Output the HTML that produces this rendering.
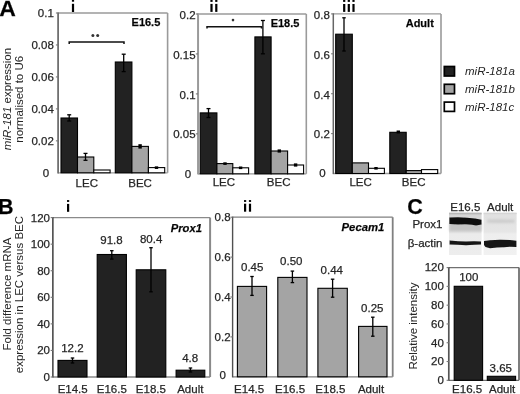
<!DOCTYPE html>
<html><head><meta charset="utf-8"><style>
html,body{margin:0;padding:0;background:#fff;}
body{width:520px;height:394px;overflow:hidden;}
svg{display:block;font-family:"Liberation Sans", sans-serif;}
.w{will-change:transform;width:520px;height:394px;}
text{stroke:#262626;stroke-width:0.25px;}
</style></head><body><div class="w">
<svg width="520" height="394" viewBox="0 0 520 394">
<text x="-0.75" y="15.6" font-size="21.5" text-anchor="start" font-weight="bold" font-style="normal" fill="#000" transform="scale(1.07,1)">A</text>
<line x1="58.1" y1="13" x2="167.6" y2="13" stroke="#9a9a9a" stroke-width="1.3"/>
<line x1="167.6" y1="13" x2="167.6" y2="172.8" stroke="#9a9a9a" stroke-width="1.6"/>
<line x1="58.1" y1="172.8" x2="167.6" y2="172.8" stroke="#9a9a9a" stroke-width="1.3"/>
<line x1="58.1" y1="12.4" x2="58.1" y2="173.4" stroke="#707070" stroke-width="1.8"/>
<line x1="55.9" y1="140.84" x2="58.1" y2="140.84" stroke="#787878" stroke-width="1.1"/>
<text x="53.8" y="144.84" font-size="11.5" text-anchor="end" font-weight="normal" font-style="normal" fill="#262626" >0.02</text>
<line x1="55.9" y1="108.88" x2="58.1" y2="108.88" stroke="#787878" stroke-width="1.1"/>
<text x="53.8" y="112.88" font-size="11.5" text-anchor="end" font-weight="normal" font-style="normal" fill="#262626" >0.04</text>
<line x1="55.9" y1="76.92" x2="58.1" y2="76.92" stroke="#787878" stroke-width="1.1"/>
<text x="53.8" y="80.92" font-size="11.5" text-anchor="end" font-weight="normal" font-style="normal" fill="#262626" >0.06</text>
<line x1="55.9" y1="44.96" x2="58.1" y2="44.96" stroke="#787878" stroke-width="1.1"/>
<text x="53.8" y="48.96" font-size="11.5" text-anchor="end" font-weight="normal" font-style="normal" fill="#262626" >0.08</text>
<line x1="55.9" y1="13.0" x2="58.1" y2="13.0" stroke="#787878" stroke-width="1.1"/>
<text x="53.8" y="17.0" font-size="11.5" text-anchor="end" font-weight="normal" font-style="normal" fill="#262626" >0.1</text>
<text x="49.2" y="176.8" font-size="11.5" text-anchor="end" font-weight="normal" font-style="normal" fill="#262626" >0</text>
<rect x="61" y="118" width="16.5" height="54.8" fill="#222222" stroke="#000" stroke-width="1.1"/>
<rect x="77.5" y="157" width="16.3" height="15.8" fill="#a4a4a4" stroke="#000" stroke-width="1.1"/>
<rect x="93.8" y="170" width="16.3" height="2.8" fill="#fff" stroke="#000" stroke-width="1.1"/>
<rect x="115.3" y="62" width="16.6" height="110.8" fill="#222222" stroke="#000" stroke-width="1.1"/>
<rect x="131.9" y="146.4" width="16.5" height="26.4" fill="#a4a4a4" stroke="#000" stroke-width="1.1"/>
<rect x="148.4" y="167.6" width="16.3" height="5.2" fill="#fff" stroke="#000" stroke-width="1.1"/>
<line x1="69.2" y1="114.8" x2="69.2" y2="121" stroke="#000" stroke-width="1.3"/>
<line x1="67.2" y1="114.8" x2="71.2" y2="114.8" stroke="#000" stroke-width="1.3"/>
<line x1="67.2" y1="121" x2="71.2" y2="121" stroke="#000" stroke-width="1.3"/>
<line x1="85.5" y1="153.4" x2="85.5" y2="160.3" stroke="#000" stroke-width="1.3"/>
<line x1="83.5" y1="153.4" x2="87.5" y2="153.4" stroke="#000" stroke-width="1.3"/>
<line x1="83.5" y1="160.3" x2="87.5" y2="160.3" stroke="#000" stroke-width="1.3"/>
<line x1="123.7" y1="54.2" x2="123.7" y2="71.6" stroke="#000" stroke-width="1.3"/>
<line x1="121.7" y1="54.2" x2="125.7" y2="54.2" stroke="#000" stroke-width="1.3"/>
<line x1="121.7" y1="71.6" x2="125.7" y2="71.6" stroke="#000" stroke-width="1.3"/>
<rect x="138.4" y="144.2" width="3.4" height="4.4" fill="#000"/>
<rect x="154.8" y="166.35" width="3.4" height="2.6" fill="#000"/>
<path d="M69.2,44 L69.2,41.9 L124,41.9 L124,44" fill="none" stroke="#111" stroke-width="1.5"/>
<circle cx="92.9" cy="35.5" r="1.5" fill="#333"/><circle cx="97.7" cy="35.5" r="1.5" fill="#333"/>
<text x="160.3" y="26.1" font-size="11" text-anchor="end" font-weight="bold" font-style="normal" fill="#000" >E16.5</text>
<text x="86.8" y="186.8" font-size="11.5" text-anchor="middle" font-weight="normal" font-style="normal" fill="#262626" >LEC</text>
<text x="140.1" y="186.8" font-size="11.5" text-anchor="middle" font-weight="normal" font-style="normal" fill="#262626" >BEC</text>
<rect x="71.9" y="-1" width="2.2" height="2.7" fill="#000"/>
<rect x="71.9" y="3.8" width="2.2" height="8.2" fill="#000"/>
<line x1="198.05" y1="14" x2="306.3" y2="14" stroke="#9a9a9a" stroke-width="1.3"/>
<line x1="306.3" y1="14" x2="306.3" y2="173.8" stroke="#9a9a9a" stroke-width="1.6"/>
<line x1="198.05" y1="173.8" x2="306.3" y2="173.8" stroke="#9a9a9a" stroke-width="1.3"/>
<line x1="198.05" y1="13.4" x2="198.05" y2="174.4" stroke="#9a9a9a" stroke-width="2.0"/>
<line x1="195.85" y1="133.85" x2="198.05" y2="133.85" stroke="#787878" stroke-width="1.1"/>
<text x="195.6" y="138.45" font-size="11.5" text-anchor="end" font-weight="normal" font-style="normal" fill="#262626" >0.05</text>
<line x1="195.85" y1="93.9" x2="198.05" y2="93.9" stroke="#787878" stroke-width="1.1"/>
<text x="195.6" y="98.5" font-size="11.5" text-anchor="end" font-weight="normal" font-style="normal" fill="#262626" >0.1</text>
<line x1="195.85" y1="53.95" x2="198.05" y2="53.95" stroke="#787878" stroke-width="1.1"/>
<text x="195.6" y="58.55" font-size="11.5" text-anchor="end" font-weight="normal" font-style="normal" fill="#262626" >0.15</text>
<line x1="195.85" y1="14.0" x2="198.05" y2="14.0" stroke="#787878" stroke-width="1.1"/>
<text x="195.6" y="18.6" font-size="11.5" text-anchor="end" font-weight="normal" font-style="normal" fill="#262626" >0.2</text>
<text x="191.2" y="177.8" font-size="11.5" text-anchor="end" font-weight="normal" font-style="normal" fill="#262626" >0</text>
<rect x="200.2" y="112.9" width="16.7" height="60.9" fill="#222222" stroke="#000" stroke-width="1.1"/>
<rect x="216.9" y="163.6" width="15.9" height="10.2" fill="#a4a4a4" stroke="#000" stroke-width="1.1"/>
<rect x="232.8" y="167.8" width="15.8" height="6.0" fill="#fff" stroke="#000" stroke-width="1.1"/>
<rect x="254.9" y="36.9" width="16.2" height="136.9" fill="#222222" stroke="#000" stroke-width="1.1"/>
<rect x="271.1" y="151" width="16.5" height="22.8" fill="#a4a4a4" stroke="#000" stroke-width="1.1"/>
<rect x="287.6" y="165" width="16" height="8.8" fill="#fff" stroke="#000" stroke-width="1.1"/>
<line x1="208.5" y1="108.6" x2="208.5" y2="117.5" stroke="#000" stroke-width="1.3"/>
<line x1="206.5" y1="108.6" x2="210.5" y2="108.6" stroke="#000" stroke-width="1.3"/>
<line x1="206.5" y1="117.5" x2="210.5" y2="117.5" stroke="#000" stroke-width="1.3"/>
<rect x="223.3" y="162.3" width="3.4" height="2.6" fill="#000"/>
<rect x="238.9" y="166.5" width="3.4" height="2.6" fill="#000"/>
<line x1="262.9" y1="20.5" x2="262.9" y2="53.8" stroke="#000" stroke-width="1.3"/>
<line x1="260.9" y1="20.5" x2="264.9" y2="20.5" stroke="#000" stroke-width="1.3"/>
<line x1="260.9" y1="53.8" x2="264.9" y2="53.8" stroke="#000" stroke-width="1.3"/>
<rect x="277.6" y="149.4" width="3.4" height="3.2" fill="#000"/>
<rect x="293.9" y="163.4" width="3.4" height="3.2" fill="#000"/>
<path d="M207,28.6 L207,26.7 L261.5,26.7 L261.5,28.6" fill="none" stroke="#111" stroke-width="1.5"/>
<circle cx="233" cy="20.1" r="1.3" fill="#333"/>
<text x="299.4" y="27.2" font-size="11" text-anchor="end" font-weight="bold" font-style="normal" fill="#000" >E18.5</text>
<text x="223.9" y="186.3" font-size="11.5" text-anchor="middle" font-weight="normal" font-style="normal" fill="#262626" >LEC</text>
<text x="278.7" y="186.3" font-size="11.5" text-anchor="middle" font-weight="normal" font-style="normal" fill="#262626" >BEC</text>
<rect x="210.4" y="-1" width="2.2" height="2.9" fill="#000"/>
<rect x="210.4" y="3.9" width="2.2" height="8.0" fill="#000"/>
<rect x="215.2" y="-1" width="2.2" height="2.9" fill="#000"/>
<rect x="215.2" y="3.9" width="2.2" height="8.0" fill="#000"/>
<line x1="333.3" y1="13.9" x2="441" y2="13.9" stroke="#9a9a9a" stroke-width="1.3"/>
<line x1="441" y1="13.9" x2="441" y2="173.5" stroke="#9a9a9a" stroke-width="1.6"/>
<line x1="333.3" y1="173.5" x2="441" y2="173.5" stroke="#9a9a9a" stroke-width="1.3"/>
<line x1="333.3" y1="13.3" x2="333.3" y2="174.1" stroke="#666" stroke-width="1.5"/>
<line x1="331.1" y1="133.6" x2="333.3" y2="133.6" stroke="#787878" stroke-width="1.1"/>
<text x="329.8" y="138.4" font-size="11.5" text-anchor="end" font-weight="normal" font-style="normal" fill="#262626" >0.2</text>
<line x1="331.1" y1="93.7" x2="333.3" y2="93.7" stroke="#787878" stroke-width="1.1"/>
<text x="329.8" y="98.5" font-size="11.5" text-anchor="end" font-weight="normal" font-style="normal" fill="#262626" >0.4</text>
<line x1="331.1" y1="53.8" x2="333.3" y2="53.8" stroke="#787878" stroke-width="1.1"/>
<text x="329.8" y="58.6" font-size="11.5" text-anchor="end" font-weight="normal" font-style="normal" fill="#262626" >0.6</text>
<line x1="331.1" y1="13.9" x2="333.3" y2="13.9" stroke="#787878" stroke-width="1.1"/>
<text x="329.8" y="18.7" font-size="11.5" text-anchor="end" font-weight="normal" font-style="normal" fill="#262626" >0.8</text>
<text x="325.6" y="177.0" font-size="11.5" text-anchor="end" font-weight="normal" font-style="normal" fill="#262626" >0</text>
<rect x="335.7" y="34.2" width="16.6" height="139.3" fill="#222222" stroke="#000" stroke-width="1.1"/>
<rect x="352.3" y="162.9" width="16.2" height="10.6" fill="#a4a4a4" stroke="#000" stroke-width="1.1"/>
<rect x="368.5" y="168.3" width="15.9" height="5.2" fill="#fff" stroke="#000" stroke-width="1.1"/>
<rect x="389.8" y="132.3" width="16.4" height="41.2" fill="#222222" stroke="#000" stroke-width="1.1"/>
<rect x="406.2" y="170.6" width="15.3" height="2.9" fill="#a4a4a4" stroke="#000" stroke-width="1.1"/>
<rect x="421.5" y="169.6" width="16.2" height="3.9" fill="#fff" stroke="#000" stroke-width="1.1"/>
<line x1="344" y1="17.8" x2="344" y2="51" stroke="#000" stroke-width="1.3"/>
<line x1="342.25" y1="17.8" x2="345.75" y2="17.8" stroke="#000" stroke-width="1.3"/>
<line x1="342.25" y1="51" x2="345.75" y2="51" stroke="#000" stroke-width="1.3"/>
<rect x="374.3" y="167.0" width="3.4" height="2.6" fill="#000"/>
<rect x="396.6" y="130.5" width="3.4" height="3" fill="#000"/>
<text x="433.8" y="27" font-size="11" text-anchor="end" font-weight="bold" font-style="normal" fill="#000" >Adult</text>
<text x="360.6" y="186.4" font-size="11.5" text-anchor="middle" font-weight="normal" font-style="normal" fill="#262626" >LEC</text>
<text x="413.7" y="186.4" font-size="11.5" text-anchor="middle" font-weight="normal" font-style="normal" fill="#262626" >BEC</text>
<rect x="343.1" y="-1" width="2.2" height="2.9" fill="#000"/>
<rect x="343.1" y="4.0" width="2.2" height="7.9" fill="#000"/>
<rect x="347.7" y="-1" width="2.2" height="2.9" fill="#000"/>
<rect x="347.7" y="4.0" width="2.2" height="7.9" fill="#000"/>
<rect x="352.4" y="-1" width="2.2" height="2.9" fill="#000"/>
<rect x="352.4" y="4.0" width="2.2" height="7.9" fill="#000"/>
<text transform="translate(11.2,99) rotate(-90)" font-size="11.5" style="stroke:none" text-anchor="middle" fill="#262626"><tspan font-style="italic">miR-181</tspan> expression</text>
<text transform="translate(23.2,99.3) rotate(-90)" font-size="11.5" style="stroke:none" text-anchor="middle" fill="#262626">normalised to U6</text>
<rect x="444.3" y="66.5" width="10.2" height="9.5" fill="#222222" stroke="#000" stroke-width="1.7"/>
<rect x="444.3" y="84.3" width="10.2" height="9.4" fill="#a4a4a4" stroke="#000" stroke-width="1.7"/>
<rect x="444.3" y="102.1" width="10.2" height="9.3" fill="#fff" stroke="#000" stroke-width="1.7"/>
<text x="465" y="75" font-size="11.5" text-anchor="start" font-weight="normal" font-style="italic" fill="#262626" style="stroke:none">miR-181a</text>
<text x="465" y="92.6" font-size="11.5" text-anchor="start" font-weight="normal" font-style="italic" fill="#262626" style="stroke:none">miR-181b</text>
<text x="465" y="110.5" font-size="11.5" text-anchor="start" font-weight="normal" font-style="italic" fill="#262626" style="stroke:none">miR-181c</text>
<text x="-2.0" y="214.1" font-size="21.5" text-anchor="start" font-weight="bold" font-style="normal" fill="#000" >B</text>
<line x1="52.85" y1="217.6" x2="210.1" y2="217.6" stroke="#8a8a8a" stroke-width="1.3"/>
<line x1="210.1" y1="217.6" x2="210.1" y2="377" stroke="#8a8a8a" stroke-width="2.0"/>
<line x1="52.85" y1="377" x2="210.1" y2="377" stroke="#8a8a8a" stroke-width="1.3"/>
<line x1="52.85" y1="217.0" x2="52.85" y2="377.6" stroke="#555" stroke-width="1.7"/>
<line x1="50.65" y1="377.0" x2="52.85" y2="377.0" stroke="#787878" stroke-width="1.1"/>
<text x="50" y="381.0" font-size="11.5" text-anchor="end" font-weight="normal" font-style="normal" fill="#262626" >0</text>
<line x1="50.65" y1="350.43" x2="52.85" y2="350.43" stroke="#787878" stroke-width="1.1"/>
<text x="50" y="354.43" font-size="11.5" text-anchor="end" font-weight="normal" font-style="normal" fill="#262626" >20</text>
<line x1="50.65" y1="323.87" x2="52.85" y2="323.87" stroke="#787878" stroke-width="1.1"/>
<text x="50" y="327.87" font-size="11.5" text-anchor="end" font-weight="normal" font-style="normal" fill="#262626" >40</text>
<line x1="50.65" y1="297.3" x2="52.85" y2="297.3" stroke="#787878" stroke-width="1.1"/>
<text x="50" y="301.3" font-size="11.5" text-anchor="end" font-weight="normal" font-style="normal" fill="#262626" >60</text>
<line x1="50.65" y1="270.73" x2="52.85" y2="270.73" stroke="#787878" stroke-width="1.1"/>
<text x="50" y="274.73" font-size="11.5" text-anchor="end" font-weight="normal" font-style="normal" fill="#262626" >80</text>
<line x1="50.65" y1="244.17" x2="52.85" y2="244.17" stroke="#787878" stroke-width="1.1"/>
<text x="50" y="248.17" font-size="11.5" text-anchor="end" font-weight="normal" font-style="normal" fill="#262626" >100</text>
<line x1="50.65" y1="217.6" x2="52.85" y2="217.6" stroke="#787878" stroke-width="1.1"/>
<text x="50" y="221.6" font-size="11.5" text-anchor="end" font-weight="normal" font-style="normal" fill="#262626" >120</text>
<rect x="58" y="360.4" width="29" height="16.6" fill="#222222" stroke="#000" stroke-width="1.1"/>
<line x1="72.5" y1="358" x2="72.5" y2="363" stroke="#000" stroke-width="1.3"/>
<line x1="70.75" y1="358" x2="74.25" y2="358" stroke="#000" stroke-width="1.3"/>
<line x1="70.75" y1="363" x2="74.25" y2="363" stroke="#000" stroke-width="1.3"/>
<rect x="97.2" y="254.5" width="29.2" height="122.5" fill="#222222" stroke="#000" stroke-width="1.1"/>
<line x1="111.8" y1="250.7" x2="111.8" y2="259.1" stroke="#000" stroke-width="1.3"/>
<line x1="110.05" y1="250.7" x2="113.55" y2="250.7" stroke="#000" stroke-width="1.3"/>
<line x1="110.05" y1="259.1" x2="113.55" y2="259.1" stroke="#000" stroke-width="1.3"/>
<rect x="136.2" y="269.8" width="29.6" height="107.2" fill="#222222" stroke="#000" stroke-width="1.1"/>
<line x1="151.0" y1="247.7" x2="151.0" y2="291.8" stroke="#000" stroke-width="1.3"/>
<line x1="149.25" y1="247.7" x2="152.75" y2="247.7" stroke="#000" stroke-width="1.3"/>
<line x1="149.25" y1="291.8" x2="152.75" y2="291.8" stroke="#000" stroke-width="1.3"/>
<rect x="176.1" y="370.2" width="28.7" height="6.8" fill="#222222" stroke="#000" stroke-width="1.1"/>
<line x1="190.45" y1="368" x2="190.45" y2="372" stroke="#000" stroke-width="1.3"/>
<line x1="188.7" y1="368" x2="192.2" y2="368" stroke="#000" stroke-width="1.3"/>
<line x1="188.7" y1="372" x2="192.2" y2="372" stroke="#000" stroke-width="1.3"/>
<text x="72.4" y="352" font-size="11.5" text-anchor="middle" font-weight="normal" font-style="normal" fill="#262626" >12.2</text>
<text x="111.5" y="244.3" font-size="11.5" text-anchor="middle" font-weight="normal" font-style="normal" fill="#262626" >91.8</text>
<text x="151.1" y="243.1" font-size="11.5" text-anchor="middle" font-weight="normal" font-style="normal" fill="#262626" >80.4</text>
<text x="190.2" y="361.8" font-size="11.5" text-anchor="middle" font-weight="normal" font-style="normal" fill="#262626" >4.8</text>
<text x="72.7" y="392.6" font-size="11.5" text-anchor="middle" font-weight="normal" font-style="normal" fill="#262626" >E14.5</text>
<text x="111.8" y="392.6" font-size="11.5" text-anchor="middle" font-weight="normal" font-style="normal" fill="#262626" >E16.5</text>
<text x="150.9" y="392.6" font-size="11.5" text-anchor="middle" font-weight="normal" font-style="normal" fill="#262626" >E18.5</text>
<text x="190.3" y="392.6" font-size="11.5" text-anchor="middle" font-weight="normal" font-style="normal" fill="#262626" >Adult</text>
<text x="201.9" y="232.3" font-size="11.2" text-anchor="end" font-weight="bold" font-style="italic" fill="#000" >Prox1</text>
<rect x="67.0" y="200.1" width="2.2" height="1.8" fill="#000"/>
<rect x="67.0" y="203.9" width="2.2" height="7.9" fill="#000"/>
<text transform="translate(11.3,294) rotate(-90)" font-size="11.5" style="stroke:none" text-anchor="middle" fill="#262626">Fold difference mRNA</text>
<text transform="translate(22.5,294.6) rotate(-90)" font-size="11.5" style="stroke:none" text-anchor="middle" fill="#262626">expression in LEC versus BEC</text>
<line x1="232.6" y1="217.2" x2="392.7" y2="217.2" stroke="#808080" stroke-width="1.3"/>
<line x1="392.7" y1="217.2" x2="392.7" y2="376.8" stroke="#808080" stroke-width="1.8"/>
<line x1="232.6" y1="376.8" x2="392.7" y2="376.8" stroke="#808080" stroke-width="1.3"/>
<line x1="232.6" y1="216.6" x2="232.6" y2="377.4" stroke="#505050" stroke-width="1.4"/>
<line x1="230.4" y1="336.9" x2="232.6" y2="336.9" stroke="#787878" stroke-width="1.1"/>
<text x="230.6" y="340.8" font-size="11.5" text-anchor="end" font-weight="normal" font-style="normal" fill="#262626" >0.2</text>
<line x1="230.4" y1="297.0" x2="232.6" y2="297.0" stroke="#787878" stroke-width="1.1"/>
<text x="230.6" y="300.9" font-size="11.5" text-anchor="end" font-weight="normal" font-style="normal" fill="#262626" >0.4</text>
<line x1="230.4" y1="257.1" x2="232.6" y2="257.1" stroke="#787878" stroke-width="1.1"/>
<text x="230.6" y="261.0" font-size="11.5" text-anchor="end" font-weight="normal" font-style="normal" fill="#262626" >0.6</text>
<line x1="230.4" y1="217.2" x2="232.6" y2="217.2" stroke="#787878" stroke-width="1.1"/>
<text x="230.6" y="221.1" font-size="11.5" text-anchor="end" font-weight="normal" font-style="normal" fill="#262626" >0.8</text>
<text x="225.9" y="378.6" font-size="11.5" text-anchor="end" font-weight="normal" font-style="normal" fill="#262626" >0</text>
<rect x="237.4" y="286.4" width="29.2" height="90.4" fill="#a4a4a4" stroke="#000" stroke-width="1.1"/>
<line x1="252.0" y1="276.5" x2="252.0" y2="295.4" stroke="#000" stroke-width="1.3"/>
<line x1="250.25" y1="276.5" x2="253.75" y2="276.5" stroke="#000" stroke-width="1.3"/>
<line x1="250.25" y1="295.4" x2="253.75" y2="295.4" stroke="#000" stroke-width="1.3"/>
<rect x="277.8" y="277.4" width="29.2" height="99.4" fill="#a4a4a4" stroke="#000" stroke-width="1.1"/>
<line x1="292.4" y1="271.1" x2="292.4" y2="282.6" stroke="#000" stroke-width="1.3"/>
<line x1="290.65" y1="271.1" x2="294.15" y2="271.1" stroke="#000" stroke-width="1.3"/>
<line x1="290.65" y1="282.6" x2="294.15" y2="282.6" stroke="#000" stroke-width="1.3"/>
<rect x="317.9" y="288.3" width="29.4" height="88.5" fill="#a4a4a4" stroke="#000" stroke-width="1.1"/>
<line x1="332.6" y1="279.2" x2="332.6" y2="297.2" stroke="#000" stroke-width="1.3"/>
<line x1="330.85" y1="279.2" x2="334.35" y2="279.2" stroke="#000" stroke-width="1.3"/>
<line x1="330.85" y1="297.2" x2="334.35" y2="297.2" stroke="#000" stroke-width="1.3"/>
<rect x="358.6" y="326.4" width="28.4" height="50.4" fill="#a4a4a4" stroke="#000" stroke-width="1.1"/>
<line x1="372.8" y1="317.2" x2="372.8" y2="336.2" stroke="#000" stroke-width="1.3"/>
<line x1="371.05" y1="317.2" x2="374.55" y2="317.2" stroke="#000" stroke-width="1.3"/>
<line x1="371.05" y1="336.2" x2="374.55" y2="336.2" stroke="#000" stroke-width="1.3"/>
<text x="252.2" y="271" font-size="11.5" text-anchor="middle" font-weight="normal" font-style="normal" fill="#262626" >0.45</text>
<text x="291.3" y="265.2" font-size="11.5" text-anchor="middle" font-weight="normal" font-style="normal" fill="#262626" >0.50</text>
<text x="331.8" y="273.6" font-size="11.5" text-anchor="middle" font-weight="normal" font-style="normal" fill="#262626" >0.44</text>
<text x="372.3" y="311.6" font-size="11.5" text-anchor="middle" font-weight="normal" font-style="normal" fill="#262626" >0.25</text>
<text x="249.1" y="392.9" font-size="11.5" text-anchor="middle" font-weight="normal" font-style="normal" fill="#262626" >E14.5</text>
<text x="290" y="392.9" font-size="11.5" text-anchor="middle" font-weight="normal" font-style="normal" fill="#262626" >E16.5</text>
<text x="330.4" y="392.9" font-size="11.5" text-anchor="middle" font-weight="normal" font-style="normal" fill="#262626" >E18.5</text>
<text x="371" y="392.9" font-size="11.5" text-anchor="middle" font-weight="normal" font-style="normal" fill="#262626" >Adult</text>
<text x="384.3" y="231.4" font-size="11.3" text-anchor="end" font-weight="bold" font-style="italic" fill="#000" >Pecam1</text>
<rect x="244.0" y="200.1" width="2.2" height="1.8" fill="#000"/>
<rect x="244.0" y="203.7" width="2.2" height="8.0" fill="#000"/>
<rect x="248.9" y="200.1" width="2.2" height="1.8" fill="#000"/>
<rect x="248.9" y="203.7" width="2.2" height="8.0" fill="#000"/>
<text x="407.2" y="214.2" font-size="21.5" text-anchor="start" font-weight="bold" font-style="normal" fill="#000" >C</text>
<text x="465.3" y="210.5" font-size="11.5" text-anchor="middle" font-weight="normal" font-style="normal" fill="#262626" >E16.5</text>
<text x="500.2" y="210.5" font-size="11.5" text-anchor="middle" font-weight="normal" font-style="normal" fill="#262626" >Adult</text>
<text x="442.5" y="228" font-size="11.5" text-anchor="end" font-weight="normal" font-style="normal" fill="#262626" >Prox1</text>
<text x="442.5" y="246.8" font-size="11.5" text-anchor="end" font-weight="normal" font-style="normal" fill="#262626" >&#946;-actin</text>
<defs>
<filter id="bl1" x="-10%" y="-50%" width="120%" height="200%"><feGaussianBlur stdDeviation="0.6"/></filter>
<filter id="bl2" x="-10%" y="-50%" width="120%" height="200%"><feGaussianBlur stdDeviation="1.2"/></filter>
<linearGradient id="gL" x1="0" y1="0" x2="0" y2="1"><stop offset="0" stop-color="#d4d4d4"/><stop offset="0.45" stop-color="#dedede"/><stop offset="0.5" stop-color="#ebebeb"/><stop offset="1" stop-color="#ededed"/></linearGradient>
<linearGradient id="gR" x1="0" y1="0" x2="0" y2="1"><stop offset="0" stop-color="#e0e0e0"/><stop offset="0.45" stop-color="#e6e6e6"/><stop offset="0.5" stop-color="#eeeeee"/><stop offset="1" stop-color="#f1f1f1"/></linearGradient>
</defs>
<g>
<rect x="449" y="213" width="32.6" height="42" fill="url(#gL)"/>
<rect x="483.6" y="213" width="33" height="42" fill="url(#gR)"/>
<rect x="449" y="212.6" width="32.6" height="1.8" fill="#b8b8b8"/>
<rect x="483.6" y="212.6" width="33" height="1.6" fill="#d6d6d6"/>
<rect x="449.5" y="223" width="32" height="8" fill="#c4c4c4" filter="url(#bl2)"/>
<path d="M449.4,217.4 L458,217.2 L467,217.8 L475,218.6 L481.5,219.8 L481.5,224.4 L476,225.4 L472,224.8 L465,224.2 L458,224.4 L449.4,223.9 Z" fill="#111" filter="url(#bl1)"/>
<path d="M487,219.6 L500,219.2 L514.5,219.8 L514.5,222.8 L500,223 L487,222.8 Z" fill="#cdcdcd" filter="url(#bl2)"/>
<path d="M449.6,240.6 L458,241.2 L466,241.6 L474,241.2 L481,241.6 L481,244.4 L474,244.8 L466,245.2 L458,244.8 L449.6,244.6 Z" fill="#141414" filter="url(#bl1)"/>
<path d="M484,241 L490,240.2 L500,239.8 L510,240 L516.4,240.8 L516.4,247 L510,246.8 L504,247.2 L497,247.6 L490,248.2 L485.5,247 L484,245 Z" fill="#161616" filter="url(#bl1)"/>
</g>
<line x1="448.8" y1="267.6" x2="519" y2="267.6" stroke="#707070" stroke-width="1.3"/>
<line x1="519" y1="267.6" x2="519" y2="380.3" stroke="#707070" stroke-width="1.8"/>
<line x1="448.8" y1="380.3" x2="519" y2="380.3" stroke="#707070" stroke-width="1.3"/>
<line x1="448.8" y1="267.0" x2="448.8" y2="380.9" stroke="#555" stroke-width="1.7"/>
<line x1="446.6" y1="380.3" x2="448.8" y2="380.3" stroke="#787878" stroke-width="1.1"/>
<text x="443.9" y="384.1" font-size="11.5" text-anchor="end" font-weight="normal" font-style="normal" fill="#262626" >0</text>
<line x1="446.6" y1="361.52" x2="448.8" y2="361.52" stroke="#787878" stroke-width="1.1"/>
<text x="443.9" y="365.32" font-size="11.5" text-anchor="end" font-weight="normal" font-style="normal" fill="#262626" >20</text>
<line x1="446.6" y1="342.73" x2="448.8" y2="342.73" stroke="#787878" stroke-width="1.1"/>
<text x="443.9" y="346.53" font-size="11.5" text-anchor="end" font-weight="normal" font-style="normal" fill="#262626" >40</text>
<line x1="446.6" y1="323.95" x2="448.8" y2="323.95" stroke="#787878" stroke-width="1.1"/>
<text x="443.9" y="327.75" font-size="11.5" text-anchor="end" font-weight="normal" font-style="normal" fill="#262626" >60</text>
<line x1="446.6" y1="305.17" x2="448.8" y2="305.17" stroke="#787878" stroke-width="1.1"/>
<text x="443.9" y="308.97" font-size="11.5" text-anchor="end" font-weight="normal" font-style="normal" fill="#262626" >80</text>
<line x1="446.6" y1="286.38" x2="448.8" y2="286.38" stroke="#787878" stroke-width="1.1"/>
<text x="443.9" y="290.18" font-size="11.5" text-anchor="end" font-weight="normal" font-style="normal" fill="#262626" >100</text>
<line x1="446.6" y1="267.6" x2="448.8" y2="267.6" stroke="#787878" stroke-width="1.1"/>
<text x="443.9" y="271.4" font-size="11.5" text-anchor="end" font-weight="normal" font-style="normal" fill="#262626" >120</text>
<rect x="454.2" y="286.3" width="28.4" height="94.0" fill="#222222" stroke="#000" stroke-width="1.1"/>
<rect x="487.3" y="376.3" width="28.3" height="4.0" fill="#222222" stroke="#000" stroke-width="1.1"/>
<text x="468.8" y="281" font-size="11.5" text-anchor="middle" font-weight="normal" font-style="normal" fill="#262626" >100</text>
<text x="500.8" y="371.5" font-size="11.5" text-anchor="middle" font-weight="normal" font-style="normal" fill="#262626" >3.65</text>
<text x="467.1" y="393.4" font-size="11.5" text-anchor="middle" font-weight="normal" font-style="normal" fill="#262626" >E16.5</text>
<text x="502.1" y="393.4" font-size="11.5" text-anchor="middle" font-weight="normal" font-style="normal" fill="#262626" >Adult</text>
<text transform="translate(417.4,326) rotate(-90)" font-size="11.5" style="stroke:none" text-anchor="middle" fill="#262626">Relative intensity</text>
</svg>
</div></body></html>
